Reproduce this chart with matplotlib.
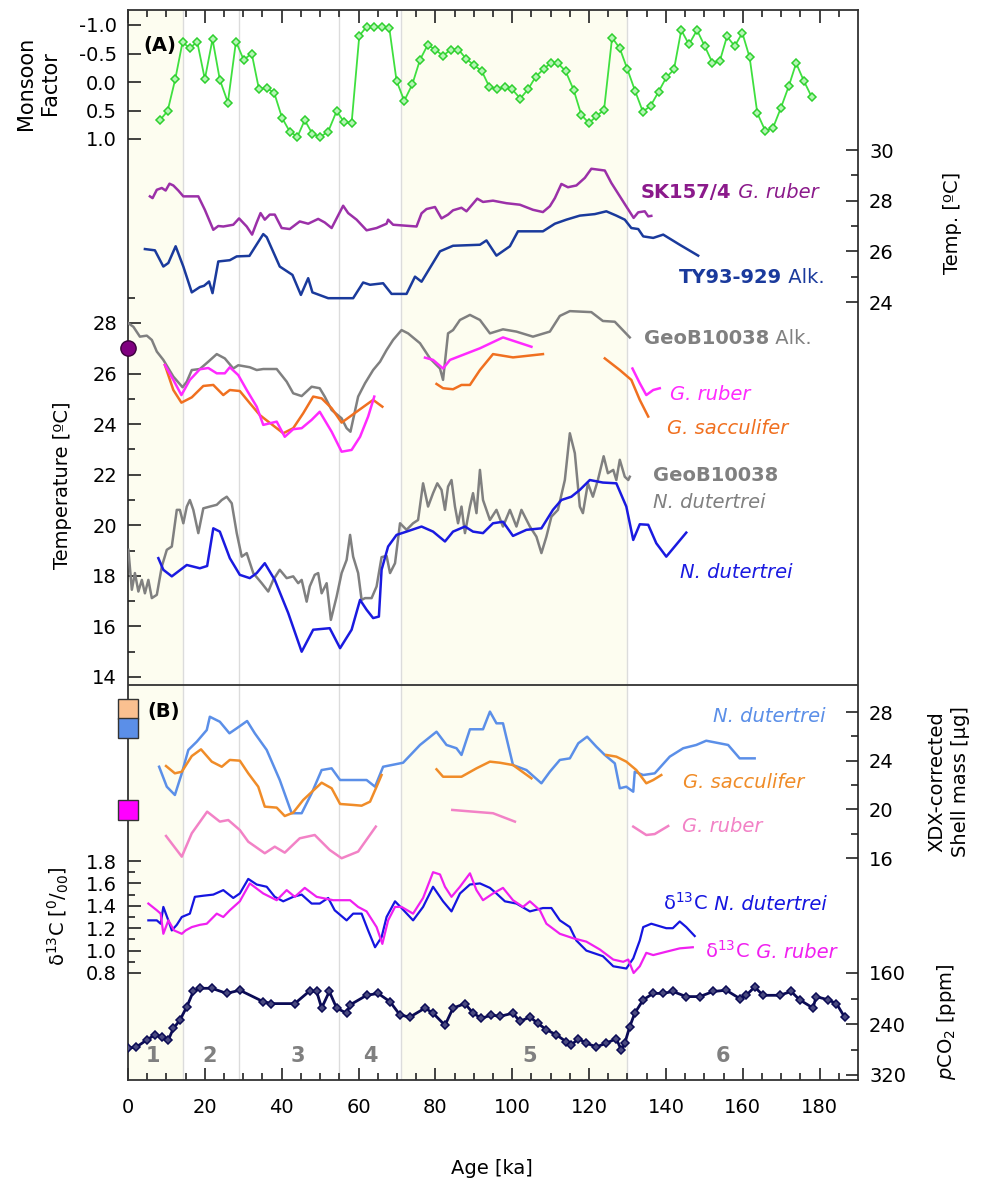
import numpy as np
import matplotlib.pyplot as plt

nan = np.nan

# monsoon factor
mf_age = [8.3, 10.3, 12.3, 14.2, 16.1, 18.0, 20.0, 22.0, 23.9, 26.0, 28.1, 30.1, 32.2, 34.1, 36.1, 38.1, 40.1, 42.1, 44.1, 46.0,
          48.0, 50.1, 52.1, 54.3, 56.2, 58.2, 60.2, 62.1, 64.0, 66.0, 68.0, 69.9, 71.9, 74.0, 76.0, 78.0, 79.9, 82.0, 84.0, 86.0,
          88.1, 90.0, 92.1, 94.0, 96.1, 98.1, 100.0, 102.1, 104.1, 106.1, 108.2, 110.0, 111.9, 113.9, 116.0, 118.0, 120.0, 121.9, 123.9, 126.0,
          128.0, 130.0, 132.0, 134.0, 136.0, 138.1, 140.1, 142.1, 144.0, 146.0, 148.1, 150.1, 152.1, 154.0, 155.9, 157.9, 159.9, 161.8, 163.8, 165.9,
          167.9, 169.9, 172.0, 173.9, 175.9, 178.0]
mf_val = [0.67, 0.51, -0.05, -0.70, -0.59, -0.71, -0.05, -0.75, -0.04, 0.36, -0.71, -0.39, -0.50, 0.13, 0.10, 0.20, 0.63, 0.87, 0.96, 0.67,
          0.91, 0.96, 0.87, 0.51, 0.70, 0.72, -0.81, -0.97, -0.97, -0.97, -0.95, -0.02, 0.33, 0.04, -0.39, -0.65, -0.57, -0.46, -0.57, -0.57,
          -0.40, -0.30, -0.19, 0.08, 0.13, 0.09, 0.13, 0.29, 0.13, -0.09, -0.23, -0.33, -0.33, -0.19, 0.14, 0.58, 0.72, 0.60, 0.49, -0.78,
          -0.59, -0.22, 0.16, 0.52, 0.42, 0.17, -0.08, -0.22, -0.91, -0.66, -0.91, -0.63, -0.34, -0.36, -0.80, -0.63, -0.86, -0.43, 0.55, 0.86,
          0.80, 0.46, 0.07, -0.33, -0.02, 0.27]

# SK157/4 G. ruber temperature
sk_age = [5.7, 6.4, 7.5, 8.8, 9.8, 10.8, 11.8, 13.1, 14.4, 18.3, 20.0, 22.2, 23.5, 24.8, 27.4, 28.9, 30.9, 32.3, 33.5, 34.5,
          35.6, 36.9, 38.2, 40.0, 42.1, 44.7, 46.9, 49.5, 51.2, 53.0, 56.0, 57.3, 59.5, 62.1, 64.7, 67.3, 67.7, 69.0, 75.1, 76.4,
          77.7, 79.9, 81.6, 83.3, 84.6, 86.8, 88.1, 90.9, 92.4, 95.0, 98.5, 102.0, 105.4, 108.0, 109.8, 111.1, 112.8, 114.5, 116.7, 118.9,
          120.6, 124.1, 125.8, 129.7, 131.6, 132.8, 134.5, 135.4, 136.2]
sk_val = [28.17, 28.1, 28.43, 28.5, 28.4, 28.67, 28.6, 28.4, 28.17, 28.17, 27.64, 26.85, 27.0, 26.98, 27.05, 27.3, 26.98, 26.66, 27.14, 27.51,
          27.25, 27.45, 27.45, 26.92, 26.88, 27.18, 27.09, 27.28, 27.14, 26.92, 27.8, 27.51, 27.25, 26.83, 26.92, 27.09, 27.25, 27.05, 26.98, 27.5,
          27.67, 27.75, 27.3, 27.45, 27.62, 27.72, 27.58, 28.08, 27.95, 28.0, 27.9, 27.84, 27.64, 27.55, 27.78, 28.1, 28.66, 28.53, 28.6, 28.9,
          29.26, 29.19, 28.7, 27.77, 27.32, 27.54, 27.58, 27.38, 27.4]

# TY93-929 alkenone temperature
ty_age = [4.4, 7.0, 9.2, 10.5, 12.4, 14.4, 16.6, 18.7, 19.8, 21.1, 22.0, 23.5, 26.5, 28.3, 31.6, 35.2, 36.1, 39.5, 42.8, 45.0,
          46.9, 48.0, 52.1, 58.6, 61.2, 63.0, 66.4, 68.6, 72.5, 74.7, 76.4, 81.2, 84.6, 91.6, 93.3, 95.9, 99.4, 101.5, 108.0, 111.1,
          114.1, 117.6, 121.5, 124.5, 127.1, 129.3, 131.0, 132.8, 134.1, 136.7, 139.3, 143.6, 148.4]
ty_val = [26.09, 26.04, 25.4, 25.54, 26.2, 25.4, 24.38, 24.59, 24.64, 24.81, 24.35, 25.6, 25.65, 25.8, 25.82, 26.68, 26.56, 25.4, 25.07, 24.28,
          24.94, 24.38, 24.15, 24.15, 24.77, 24.68, 24.74, 24.32, 24.32, 25.0, 24.8, 26.0, 26.22, 26.26, 26.43, 25.83, 26.2, 26.79, 26.79, 27.09,
          27.25, 27.41, 27.47, 27.58, 27.41, 27.25, 26.92, 26.88, 26.59, 26.53, 26.66, 26.26, 25.83]

# GeoB10038 alkenone temperature
ga_age = [0.1, 1.4, 3.1, 4.9, 6.2, 7.5, 9.2, 11.8, 14.2, 15.3, 16.6, 18.7, 20.9, 23.1, 25.2, 27.4, 28.7, 31.7, 33.5, 35.2,
          37.0, 38.7, 41.3, 43.0, 45.2, 47.8, 49.9, 51.2, 53.0, 55.6, 56.9, 57.9, 59.9, 61.7, 63.8, 65.6, 67.3, 69.0, 71.2, 72.9,
          76.0, 78.6, 81.2, 82.0, 83.3, 84.6, 86.4, 89.0, 91.6, 94.2, 97.6, 101.1, 105.4, 109.8, 112.4, 115.0, 120.6, 123.6, 126.7, 130.6]
ga_val = [27.99, 27.85, 27.46, 27.5, 27.33, 26.87, 26.54, 25.88, 25.46, 25.68, 26.14, 26.18, 26.47, 26.77, 26.6, 26.2, 26.33, 26.25, 26.14, 26.18,
          26.18, 26.18, 25.68, 25.22, 25.11, 25.48, 25.42, 25.09, 24.56, 24.23, 23.84, 23.7, 25.09, 25.62, 26.14, 26.47, 26.93, 27.33, 27.72, 27.59,
          27.2, 26.6, 26.2, 25.75, 27.59, 27.72, 28.12, 28.32, 28.12, 27.59, 27.75, 27.66, 27.46, 27.66, 28.28, 28.47, 28.43, 28.08, 28.05, 27.43]

# G. ruber Mg/Ca temperature
gr_age = [9.6, 11.8, 13.9, 16.1, 18.7, 20.9, 23.1, 25.2, 26.5, 28.7, 30.9, 33.5, 35.2, 38.7, 40.8, 43.0, 45.2, 47.8, 49.9, 53.0,
          55.6, 58.2, 60.4, 62.5, 64.1, nan, 77.3, 79.4, 82.0, 83.8, 91.6, 97.6, 105.0, nan, 131.3, 133.2, 134.9, 136.7, 138.4]
gr_val = [26.34, 25.75, 25.15, 25.75, 26.17, 26.22, 26.01, 26.01, 26.25, 25.94, 25.35, 24.69, 23.97, 24.1, 23.5, 23.8, 23.84, 24.17, 24.49, 23.7,
          22.91, 22.98, 23.5, 24.3, 25.09, nan, 26.63, 26.54, 26.2, 26.54, 27.0, 27.43, 27.06, nan, 26.2, 25.62, 25.15, 25.35, 25.42]

# G. sacculifer Mg/Ca temperature
gs_age = [9.6, 11.8, 13.9, 16.6, 19.6, 22.2, 24.8, 26.5, 29.1, 31.7, 34.3, 37.0, 40.4, 43.0, 45.6, 48.2, 50.4, 53.0, 55.6, 59.5,
          63.8, 66.2, nan, 80.3, 82.0, 84.6, 86.8, 89.0, 91.6, 95.0, 100.2, 108.0, nan, 124.1, 128.0, 131.0, 133.2, 135.4]
gs_val = [26.34, 25.35, 24.85, 25.06, 25.51, 25.55, 25.15, 25.35, 25.31, 24.83, 24.36, 24.04, 23.64, 23.84, 24.43, 25.09, 25.02, 24.63, 24.06, 24.49,
          24.96, 24.69, nan, 25.59, 25.42, 25.38, 25.55, 25.55, 26.14, 26.77, 26.64, 26.77, nan, 26.6, 26.14, 25.75, 24.96, 24.3]

# GeoB10038 N. dutertrei temperature
gn_age = [0.1, 1.0, 1.8, 2.7, 3.6, 4.4, 5.3, 6.2, 7.5, 8.8, 10.1, 11.4, 12.7, 13.5, 14.4, 15.3, 16.1, 17.0, 18.3, 19.6,
          21.3, 23.1, 24.4, 25.7, 27.0, 28.3, 29.6, 30.9, 32.6, 34.8, 36.5, 37.8, 39.5, 41.3, 43.0, 44.3, 45.2, 46.5, 47.3, 48.6,
          49.5, 50.4, 51.7, 52.8, 54.3, 55.6, 56.9, 57.8, 58.6, 59.9, 60.8, 61.7, 63.4, 64.7, 66.0, 67.3, 68.2, 69.5, 70.8, 72.5,
          74.2, 75.5, 76.8, 78.1, 79.4, 80.5, 81.6, 82.5, 83.3, 84.2, 85.1, 85.9, 86.8, 87.7, 89.0, 89.8, 90.7, 91.6, 92.4, 94.2,
          95.9, 97.6, 99.4, 101.1, 102.4, 104.6, 106.3, 107.6, 108.9, 110.2, 111.9, 113.7, 115.0, 116.3, 117.6, 118.4, 119.7, 121.0, 122.3, 123.8,
          124.9, 126.3, 127.1, 128.0, 129.3, 130.2, 130.6]
gn_val = [19.03, 17.45, 18.11, 17.38, 17.84, 17.31, 17.84, 17.12, 17.25, 18.37, 19.03, 19.16, 20.61, 20.61, 20.08, 20.74, 21.0, 20.61, 19.69, 20.67,
          20.74, 20.81, 21.0, 21.13, 20.87, 19.69, 18.76, 18.9, 18.11, 17.71, 17.38, 17.84, 18.24, 17.91, 17.98, 17.71, 17.84, 16.98, 17.58, 18.04,
          18.11, 17.31, 17.71, 16.26, 17.18, 18.11, 18.63, 19.62, 18.76, 18.11, 17.05, 17.12, 17.12, 17.58, 18.74, 18.79, 18.11, 18.5, 20.08, 19.82,
          20.08, 20.21, 21.66, 20.74, 21.27, 21.66, 21.4, 20.61, 21.53, 21.79, 20.74, 20.08, 20.74, 19.69, 20.74, 21.27, 20.48, 22.19, 21.0, 20.21,
          20.61, 19.95, 20.61, 19.95, 20.61, 19.95, 19.55, 18.9, 19.55, 20.34, 20.61, 21.79, 23.64, 22.85, 20.74, 20.48, 21.66, 21.13, 21.79, 22.73,
          22.06, 22.19, 21.79, 22.59, 21.92, 21.79, 21.92]

# N. dutertrei Mg/Ca temperature
nd_age = [7.9, 9.2, 11.4, 12.7, 15.3, 18.7, 20.6, 22.2, 23.9, 26.5, 29.1, 31.7, 33.5, 35.6, 38.2, 41.7, 45.2, 48.2, 52.5, 55.2,
          58.2, 60.4, 62.1, 63.8, 65.3, 66.0, 67.7, 69.9, 72.5, 76.4, 79.4, 82.5, 84.6, 87.7, 89.8, 92.4, 95.0, 97.6, 100.2, 103.7,
          107.6, 110.6, 112.8, 115.4, 117.6, 120.2, 123.6, 127.1, 129.7, 131.5, 133.2, 135.4, 137.5, 140.1, 145.3]
nd_val = [18.7, 18.24, 17.98, 18.13, 18.43, 18.3, 18.39, 19.88, 19.75, 18.7, 18.04, 17.91, 18.11, 18.5, 17.84, 16.53, 15.0, 15.87, 15.93, 15.14,
          15.87, 17.05, 16.66, 16.33, 16.39, 18.24, 19.16, 19.62, 19.75, 19.95, 19.75, 19.36, 19.75, 19.95, 19.75, 19.69, 20.08, 20.14, 19.58, 19.82,
          19.88, 20.61, 21.0, 21.13, 21.4, 21.79, 21.69, 21.66, 20.74, 19.42, 20.04, 20.02, 19.29, 18.76, 19.71]

# shell mass N. dutertrei
sn_age = [8.1, 10.1, 12.2, 14.0, 15.7, 17.9, 20.5, 21.3, 23.9, 26.4, 28.3, 31.0, 33.0, 36.1, 39.5, 42.6, 45.2, 47.8, 50.4, 53.0,
          55.2, 62.1, 64.3, 66.4, 71.6, 76.0, 80.3, 82.9, 85.5, 86.8, 89.0, 92.4, 94.2, 95.9, 97.6, 100.2, 103.7, 107.6, 109.8, 112.4,
          115.0, 117.2, 119.5, 121.9, 124.1, 126.7, 128.0, 129.7, 131.5, 131.9, 134.1, 137.1, 141.0, 144.5, 147.9, 150.5, 156.2, 159.2, 163.1]
sn_val = [23.5, 21.86, 21.18, 22.96, 24.88, 25.56, 26.52, 27.61, 27.2, 26.25, 26.66, 27.26, 26.25, 24.88, 22.41, 19.68, 19.68, 21.32, 23.23, 23.37,
          22.41, 22.41, 21.86, 23.5, 23.83, 25.29, 26.38, 25.29, 25.02, 24.47, 26.58, 26.58, 28.03, 27.07, 27.07, 23.64, 23.23, 22.14, 23.09, 24.06,
          24.19, 25.43, 25.97, 25.15, 24.47, 23.78, 21.73, 21.86, 21.45, 23.09, 22.82, 22.96, 24.33, 25.02, 25.29, 25.64, 25.29, 24.19, 24.19]

# shell mass G. sacculifer
ss_age = [9.9, 12.2, 14.0, 16.6, 19.0, 21.8, 24.4, 26.5, 29.1, 31.3, 33.9, 35.6, 38.7, 40.8, 43.0, 45.6, 50.4, 53.0, 55.2, 58.6,
          60.8, 63.0, 64.7, 66.0, nan, 80.3, 82.0, 86.8, 90.7, 94.2, 96.8, 100.2, 105.0, nan, 124.5, 127.1, 129.7, 132.3, 134.9, 136.7, 138.8]
ss_val = [23.56, 22.96, 23.09, 24.38, 24.93, 23.92, 23.5, 24.06, 24.0, 22.96, 21.86, 20.22, 20.14, 19.45, 19.73, 20.77, 22.19, 21.73, 20.44, 20.36,
          20.3, 20.63, 21.86, 22.82, nan, 23.29, 22.68, 22.68, 23.37, 23.92, 23.83, 23.64, 22.55, nan, 24.47, 24.33, 23.92, 23.23, 22.14, 22.41, 22.82]

# shell mass G. ruber
sr_age = [9.9, 14.0, 16.6, 20.6, 23.9, 26.1, 29.1, 31.3, 35.6, 38.2, 40.8, 44.7, 48.6, 52.5, 55.6, 59.9, 64.5, nan,
          84.4, 89.8, 95.0, 100.7, nan, 131.5, 134.9, 137.1, 140.6]
sr_val = [17.81, 16.11, 18.03, 19.81, 18.99, 19.12, 18.3, 17.34, 16.39, 16.93, 16.44, 17.62, 17.89, 16.66, 15.98, 16.53, 18.58, nan,
          19.95, 19.81, 19.68, 18.99, nan, 18.58, 17.89, 17.97, 18.63]

# core-top / modern values
ctop_shell = [28.25, 26.65, 19.95]
ctop_temp = 27.0

# d13C N. dutertrei
cn_age = [5.3, 7.5, 8.5, 9.2, 10.5, 11.4, 12.7, 14.0, 16.1, 17.4, 19.6, 22.2, 24.8, 27.4, 29.1, 31.3, 33.5, 36.1, 38.2, 40.4,
          43.0, 45.2, 47.8, 49.9, 52.1, 53.8, 56.9, 58.6, 60.8, 62.5, 64.3, 66.0, 67.3, 69.5, 71.2, 74.2, 76.8, 79.4, 82.0, 84.2,
          86.4, 89.0, 91.6, 94.2, 95.9, 98.1, 101.1, 104.6, 108.0, 110.2, 112.4, 115.0, 116.7, 119.3, 123.6, 126.3, 129.7, 131.5, 133.2, 134.1,
          136.2, 140.1, 141.8, 143.6, 145.3, 147.5]
cn_val = [1.27, 1.27, 1.24, 1.39, 1.27, 1.18, 1.23, 1.30, 1.33, 1.48, 1.49, 1.50, 1.54, 1.47, 1.51, 1.64, 1.59, 1.57, 1.48, 1.44,
          1.48, 1.50, 1.42, 1.42, 1.47, 1.36, 1.27, 1.33, 1.33, 1.18, 1.03, 1.12, 1.30, 1.44, 1.38, 1.27, 1.39, 1.57, 1.44, 1.35,
          1.51, 1.59, 1.60, 1.56, 1.51, 1.44, 1.42, 1.35, 1.38, 1.38, 1.27, 1.21, 1.09, 1.00, 0.95, 0.86, 0.84, 0.93, 1.09, 1.21,
          1.24, 1.20, 1.20, 1.26, 1.21, 1.13]

# d13C G. ruber
cr_age = [5.3, 7.5, 8.5, 9.2, 10.5, 12.0, 14.0, 15.0, 16.6, 18.7, 20.5, 23.1, 24.8, 26.5, 29.1, 31.7, 35.2, 38.7, 41.3, 43.4,
          46.0, 49.1, 53.4, 57.8, 59.9, 62.1, 64.7, 66.2, 67.7, 69.5, 71.2, 74.2, 76.8, 79.4, 81.2, 82.5, 84.2, 86.4, 89.0, 90.7,
          92.4, 95.0, 97.6, 100.2, 102.8, 104.6, 107.2, 108.9, 112.4, 115.9, 119.3, 122.8, 126.3, 128.9, 130.2, 131.6, 133.2, 134.9, 136.7, 140.1,
          143.6, 147.0]
cr_val = [1.42, 1.36, 1.33, 1.15, 1.27, 1.18, 1.15, 1.18, 1.21, 1.23, 1.24, 1.33, 1.30, 1.36, 1.44, 1.60, 1.51, 1.45, 1.54, 1.48,
          1.56, 1.48, 1.45, 1.45, 1.39, 1.35, 1.21, 1.06, 1.27, 1.39, 1.39, 1.33, 1.47, 1.70, 1.68, 1.57, 1.48, 1.57, 1.69, 1.54,
          1.45, 1.51, 1.56, 1.45, 1.39, 1.44, 1.36, 1.24, 1.15, 1.11, 1.08, 1.01, 0.92, 0.90, 0.92, 0.80, 0.86, 0.98, 0.96, 0.99,
          1.02, 1.03]

# atmospheric pCO2
co2_age = [0.1, 2.2, 4.9, 7.0, 8.8, 10.5, 11.8, 13.5, 15.3, 17.0, 18.7, 21.8, 25.7, 29.1, 35.2, 37.3, 43.4, 47.3, 49.1, 50.4,
           52.4, 54.3, 56.9, 57.8, 62.1, 65.1, 68.2, 70.8, 73.4, 77.3, 79.4, 82.5, 84.6, 87.7, 89.8, 92.0, 94.6, 96.8, 100.2, 102.0,
           104.6, 106.7, 108.9, 111.5, 114.1, 115.4, 117.2, 119.3, 121.9, 124.5, 127.1, 128.4, 129.3, 130.6, 131.9, 134.1, 136.7, 139.3, 141.8, 145.3,
           148.8, 152.3, 155.7, 159.2, 160.9, 163.1, 165.3, 169.6, 172.6, 174.8, 178.3, 179.1, 182.2, 184.4, 186.5]
co2_val = [278, 276, 265, 257, 260, 265, 247, 234, 213, 189, 184, 184, 192, 187, 205, 208, 208, 188, 189, 215,
           189, 215, 223, 210, 195, 192, 205, 226, 229, 215, 223, 242, 215, 208, 223, 231, 226, 228, 223, 236,
           229, 239, 249, 257, 268, 273, 263, 270, 276, 270, 263, 281, 270, 244, 223, 202, 192, 192, 189, 197,
           197, 189, 187, 200, 195, 182, 195, 195, 189, 202, 215, 197, 202, 208, 229]

# marine isotope stages
stage_bounds = [14.3, 29.0, 55.0, 71.0, 130.0]
warm_stages = [(0, 14.3), (71.0, 130.0)]
stage_names = ['1', '2', '3', '4', '5', '6']
stage_pos = [6.5, 21.3, 44.3, 63.0, 104.6, 154.8]

W, H = 985, 1189
L, R, T, B = 128, 858, 10, 1080
fig = plt.figure(figsize=(W / 100, H / 100), dpi=100)
rect = [L / W, 1 - B / H, (R - L) / W, (B - T) / H]
FS = 14
dark = '#222222'


def fx(px):
    return px / W


def fy(py):
    return 1 - py / H


ax = fig.add_axes(rect)
ax.set_xlim(0, 190)
ax.set_ylim(B, T)
ax.set_yticks([])
for s in ax.spines.values():
    s.set_linewidth(1.3)
    s.set_color('#333333')
ax.set_xticks(np.arange(0, 181, 20))
ax.set_xticks(np.arange(0, 190, 5), minor=True)
ax.tick_params(axis='x', which='both', direction='in', top=True, bottom=True,
               width=1.2, color=dark, labelsize=FS, pad=13)
ax.tick_params(axis='x', which='major', length=9)
ax.tick_params(axis='x', which='minor', length=5)
for a0, a1 in warm_stages:
    ax.axvspan(a0, a1, color='#FDFDF0', lw=0, zorder=0)
for b in stage_bounds:
    ax.axvline(b, color='#DCDCDC', lw=1, zorder=0.5)
ax.axhline(685, color='#333333', lw=1.3)
for p, n in zip(stage_pos, stage_names):
    ax.text(p, 1056, n, color='#808080', fontsize=15, fontweight='bold', ha='center', va='center')


def overlay(v1, p1, v2, p2, side, major, minor=None, fmt='{:g}'):
    a = fig.add_axes(rect, sharex=ax)
    a.patch.set_visible(False)
    for s in a.spines.values():
        s.set_visible(False)
    k = (p2 - p1) / (v2 - v1)
    a.set_ylim(v1 + (B - p1) / k, v1 + (T - p1) / k)
    a.tick_params(axis='x', which='both', bottom=False, top=False, labelbottom=False)
    a.set_yticks(major)
    a.set_yticklabels([fmt.format(m) for m in major])
    if minor is not None:
        a.set_yticks(minor, minor=True)
    if side == 'right':
        a.tick_params(axis='y', which='both', left=False, right=True, labelleft=False, labelright=True)
    a.tick_params(axis='y', which='both', direction='in', width=1.2, color=dark, labelsize=FS, pad=8)
    a.tick_params(axis='y', which='major', length=9)
    a.tick_params(axis='y', which='minor', length=5)
    return a


ax_mf = overlay(-1.0, 25, 1.0, 139, 'left', [-1.0, -0.5, 0.0, 0.5, 1.0], fmt='{:.1f}')
ax_tr = overlay(30, 150, 24, 302, 'right', [24, 26, 28, 30], [25, 27, 29])
ax_tl = overlay(28, 323, 14, 677, 'left', list(range(14, 29, 2)), list(range(15, 30, 2)))
ax_sm = overlay(28, 712, 16, 858, 'right', [16, 20, 24, 28], [18, 22, 26])
ax_c = overlay(1.8, 861, 0.8, 973, 'left', [0.8, 1.0, 1.2, 1.4, 1.6, 1.8],
               [0.9, 1.1, 1.3, 1.5, 1.7], fmt='{:.1f}')
ax_co2 = overlay(160, 973, 320, 1075, 'right', [160, 240, 320], [200, 280])

ax_mf.plot(mf_age, mf_val, color='#3FE03F', lw=1.3, marker='D', ms=4.5,
           mfc='#B6F5B6', mec='#2ED02E', mew=1.1)
ax_tr.plot(sk_age, sk_val, color='#9B30A8', lw=1.8)
ax_tr.plot(ty_age, ty_val, color='#1A3A9C', lw=1.8)
ax_tl.plot(ga_age, ga_val, color='#808080', lw=1.8)
ax_tl.plot(gs_age, gs_val, color='#F07020', lw=1.8)
ax_tl.plot(gr_age, gr_val, color='#FF2AFF', lw=1.8)
ax_tl.plot(gn_age, gn_val, color='#808080', lw=1.8)
ax_tl.plot(nd_age, nd_val, color='#1A1AE0', lw=1.8)
ax_tl.plot([0], [ctop_temp], 'o', ms=11, color='#800080', mec='#3A003A', clip_on=False, zorder=5)

ax_sm.plot(sn_age, sn_val, color='#5B8FE8', lw=1.8)
ax_sm.plot(ss_age, ss_val, color='#F08C28', lw=1.8)
ax_sm.plot(sr_age, sr_val, color='#F282C6', lw=1.8)
for v, c in zip(ctop_shell, ['#FAC090', '#5B8FE8', '#FF00FF']):
    ax_sm.plot([0], [v], 's', ms=14, color=c, mec='#333333', clip_on=False, zorder=5)

ax_c.plot(cn_age, cn_val, color='#1515E0', lw=1.6)
ax_c.plot(cr_age, cr_val, color='#F020F0', lw=1.6)
ax_co2.plot(co2_age, co2_val, color='#0B0B55', lw=2.0, marker='D', ms=4.5,
            mfc='#4A4A80', mec='#0B0B55', mew=1.1)


def label2(px, py, first, second, color, w1='bold', s2='italic', w2='normal'):
    t1 = fig.text(fx(px), fy(py), first, color=color, fontsize=FS, fontweight=w1,
                  ha='left', va='center')
    ax.annotate(second, xy=(1, 0), xycoords=t1, va='bottom', ha='left', color=color,
                fontsize=FS, fontstyle=s2, fontweight=w2, annotation_clip=False)


label2(641, 192, 'SK157/4', ' G. ruber', '#8B1A8B')
label2(679, 278, 'TY93-929', ' Alk.', '#1A3A9C', s2='normal')
label2(644, 339, 'GeoB10038', ' Alk.', '#808080', s2='normal')
fig.text(fx(670), fy(395), 'G. ruber', color='#FF2AFF', fontsize=FS, style='italic', va='center')
fig.text(fx(667), fy(428), 'G. sacculifer', color='#F07020', fontsize=FS, style='italic', va='center')
fig.text(fx(653), fy(476), 'GeoB10038', color='#808080', fontsize=FS, fontweight='bold', va='center')
fig.text(fx(653), fy(503), 'N. dutertrei', color='#808080', fontsize=FS, style='italic', va='center')
fig.text(fx(680), fy(573), 'N. dutertrei', color='#1A1AE0', fontsize=FS, style='italic', va='center')
fig.text(fx(713), fy(717), 'N. dutertrei', color='#5B8FE8', fontsize=FS, style='italic', va='center')
fig.text(fx(683), fy(783), 'G. sacculifer', color='#F08C28', fontsize=FS, style='italic', va='center')
fig.text(fx(682), fy(827), 'G. ruber', color='#F282C6', fontsize=FS, style='italic', va='center')
label2(663, 903, 'δ$^{13}$C', ' N. dutertrei', '#1515E0', w1='normal')
label2(705, 951, 'δ$^{13}$C', ' G. ruber', '#F020F0', w1='normal')

fig.text(fx(143), fy(46), '(A)', fontsize=FS, fontweight='bold', va='center')
fig.text(fx(147), fy(712), '(B)', fontsize=FS, fontweight='bold', va='center')

fig.text(fx(38), fy(83), 'Monsoon\nFactor', fontsize=15, rotation=90, ha='center', va='center',
         linespacing=1.25)
fig.text(fx(63), fy(485), 'Temperature [ºC]', fontsize=FS, rotation=90, ha='center', va='center')
fig.text(fx(58), fy(916), 'δ$^{13}$C [$^{0}$/$_{00}$]', fontsize=FS, rotation=90, ha='center', va='center')
fig.text(fx(953), fy(223), 'Temp. [ºC]', fontsize=FS, rotation=90, ha='center', va='center')
fig.text(fx(949), fy(782), 'XDX-corrected\nShell mass [µg]', fontsize=FS, rotation=90, ha='center',
         va='center', linespacing=1.3)
fig.text(fx(947), fy(1022), '$\\mathit{p}$CO$_2$ [ppm]', fontsize=FS, rotation=90, ha='center', va='center')
fig.text(fx(492), fy(1168), 'Age [ka]', fontsize=FS, ha='center', va='center')

fig.savefig('out.png', dpi=100)
